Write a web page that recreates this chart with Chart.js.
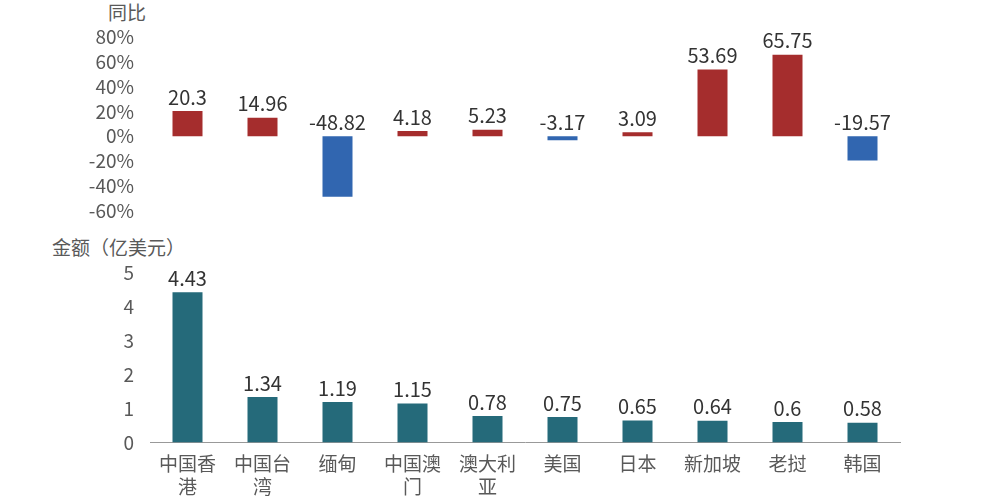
<!DOCTYPE html>
<html><head><meta charset="utf-8">
<script src="https://cdn.jsdelivr.net/npm/chart.js@4"></script>
<style>
body{margin:0;width:1000px;height:500px;background:#fff;position:relative;overflow:hidden;font-family:"Noto Sans CJK SC";}
canvas{position:absolute;left:0;}
.t{position:absolute;color:#595959;font-size:19px;font-family:"Noto Sans CJK SC";}
</style></head><body>
<div class="t" style="left:108px;top:-2px">同比</div>
<div class="t" style="left:52px;top:233px">金额（亿美元）</div>
<div style="position:absolute;left:0;top:0;width:1000px;height:230px"><canvas id="c1"></canvas></div>
<div style="position:absolute;left:0;top:230px;width:1000px;height:270px"><canvas id="c2"></canvas></div>
<script>
const categories=[["中国香","港"],["中国台","湾"],["缅甸"],["中国澳","门"],["澳大利","亚"],["美国"],["日本"],["新加坡"],["老挝"],["韩国"]];
const yoy=[20.3,14.96,-48.82,4.18,5.23,-3.17,3.09,53.69,65.75,-19.57];
const amount=[4.43,1.34,1.19,1.15,0.78,0.75,0.65,0.64,0.6,0.58];
const yoyTicks=[-60,-40,-20,0,20,40,60,80];
const red='#a52d2d',blue='#3166b0',teal='#256a7a';
const font={family:'"Noto Sans CJK SC"',size:19};
const labels={id:'lbl',afterDatasetsDraw(ch){
  const ctx=ch.ctx,meta=ch.getDatasetMeta(0),ds=ch.data.datasets[0];
  const zero=ch.scales.y.getPixelForValue(0);
  ctx.save();ctx.fillStyle='#333';ctx.font='20px "Noto Sans CJK SC"';ctx.textAlign='center';ctx.textBaseline='bottom';
  meta.data.forEach((b,i)=>{const top=Math.min(b.y,zero);ctx.fillText(String(ds.data[i]),b.x,top-4);});
  ctx.restore();}};
function fixW(s){s.width=150;}
new Chart(document.getElementById('c1'),{type:'bar',
 data:{labels:categories,datasets:[{data:yoy,backgroundColor:yoy.map(v=>v>=0?red:blue),barPercentage:0.8,categoryPercentage:0.5}]},
 options:{responsive:true,maintainAspectRatio:false,animation:false,
  layout:{padding:{top:37,right:100,bottom:7}},
  plugins:{legend:{display:false},tooltip:{enabled:false}},
  scales:{x:{display:false},
   y:{min:-60,max:80,afterFit:fixW,afterBuildTicks(s){s.ticks=yoyTicks.map(v=>({value:v}));},
      grid:{display:false},border:{display:false},
      ticks:{color:'#595959',font,padding:8,callback:v=>v+'%'}}}},
 plugins:[labels]});
new Chart(document.getElementById('c2'),{type:'bar',
 data:{labels:categories,datasets:[{data:amount,backgroundColor:teal,barPercentage:0.8,categoryPercentage:0.5}]},
 options:{responsive:true,maintainAspectRatio:false,animation:false,
  layout:{padding:{top:43,right:100,bottom:0}},
  plugins:{legend:{display:false},tooltip:{enabled:false}},
  scales:{x:{grid:{display:false},border:{color:'#999'},ticks:{color:'#595959',font,padding:2,maxRotation:0,autoSkip:false}},
   y:{min:0,max:5,afterFit:fixW,grid:{display:false},border:{display:false},
      ticks:{stepSize:1,color:'#595959',font,padding:8}}}},
 plugins:[labels]});
</script></body></html>
